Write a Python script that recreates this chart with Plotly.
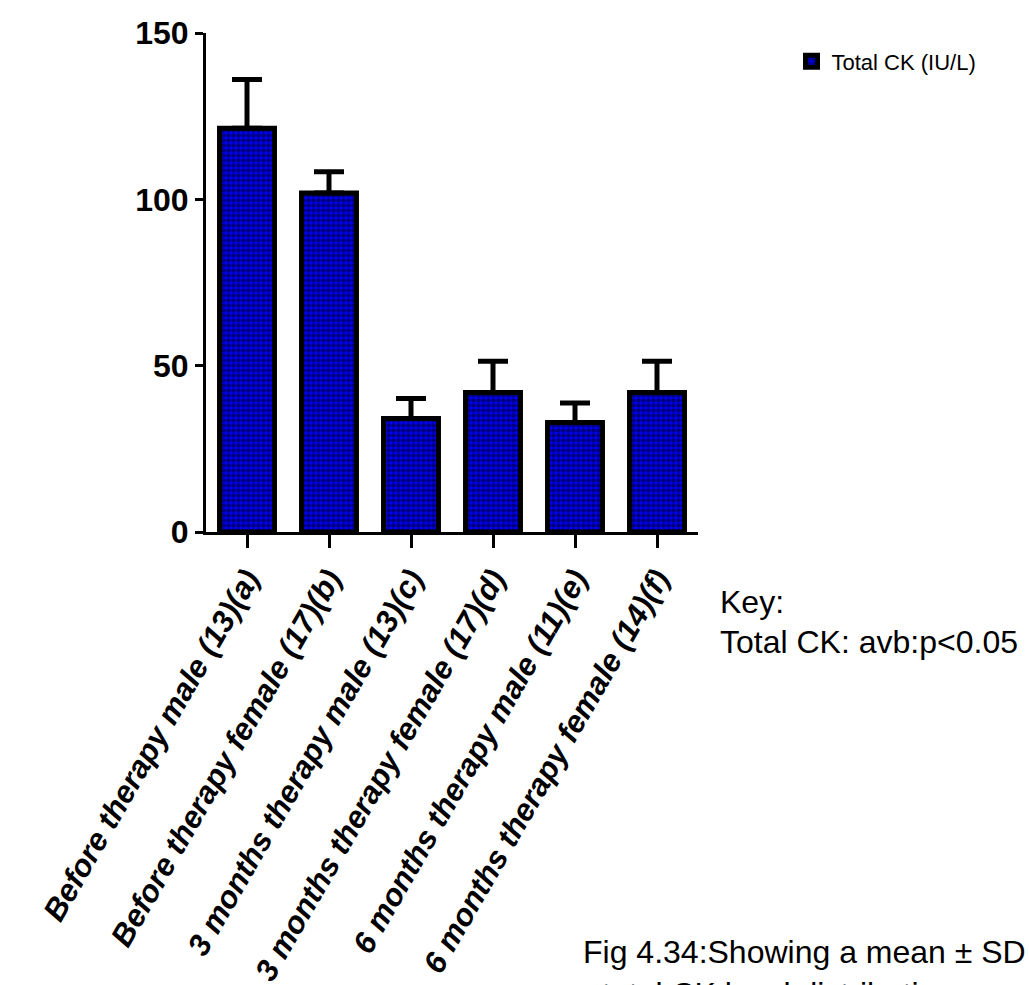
import plotly.graph_objects as go

# Group labels, mean Total CK (IU/L) and SD
groups = [
    "Before therapy male (13)(a)",
    "Before therapy female (17)(b)",
    "3 months therapy male (13)(c)",
    "3 months therapy female (17)(d)",
    "6 months therapy male (11)(e)",
    "6 months therapy female (14)(f)",
]
mean_ck = [121.4, 101.9, 34.1, 41.9, 32.9, 41.9]
sd_ck = [14.6, 6.4, 6.0, 9.4, 5.9, 9.4]
y_ticks = [0, 50, 100, 150]

FONT = "Liberation Sans, Arial, sans-serif"

fig = go.Figure()
fig.add_trace(go.Bar(
    x=groups,
    y=mean_ck,
    name="Total CK (IU/L)",
    width=0.67,
    marker=dict(
        color="#0000FF",
        line=dict(color="black", width=5),
        pattern=dict(shape=".", fgcolor="black", bgcolor="#0000FF",
                     size=5, solidity=0.65),
    ),
    error_y=dict(type="data", array=sd_ck, arrayminus=[0] * len(sd_ck),
                 symmetric=False, color="black", thickness=5, width=15),
    showlegend=True,
))

fig.update_layout(
    width=1029, height=985,
    margin=dict(l=206, r=331, t=33, b=453),
    paper_bgcolor="white", plot_bgcolor="white",
    font=dict(family=FONT, color="black"),
    showlegend=True,
    legend=dict(x=1.19, y=0.985, xanchor="left", yanchor="top",
                font=dict(size=22, family=FONT),
                bgcolor="rgba(0,0,0,0)"),
)

fig.update_xaxes(
    range=[-0.5, 5.5], automargin=False,
    showline=True, linewidth=3, linecolor="black",
    ticks="outside", ticklen=13, tickwidth=3, tickcolor="black",
    tickangle=-60,
    tickfont=dict(size=31, family=FONT, weight="bold", style="italic"),
    showgrid=False, zeroline=False,
)
fig.update_yaxes(
    range=[0, 150], automargin=False,
    tickvals=y_ticks, ticktext=[str(v) for v in y_ticks],
    showline=True, linewidth=3, linecolor="black",
    ticks="outside", ticklen=8, tickwidth=3, tickcolor="black",
    tickfont=dict(size=32, family=FONT, weight="bold"),
    showgrid=False, zeroline=False,
)

def px_x(p):
    return (p - 206) / 492

def px_y(p):
    return (532 - p) / 499

notes = [
    ("Key:", 718, 602, 32),
    ("Total CK: avb:p<0.05", 718, 642, 32),
    ("Fig 4.34:Showing a mean \u00b1 SD level of Total CK", 581, 952, 32),
    ("total CK level distribution among the groups", 600, 994, 32),
]
for text, xp, yp, size in notes:
    fig.add_annotation(
        text=text, xref="paper", yref="paper",
        x=px_x(xp), y=px_y(yp), xanchor="left", yanchor="middle",
        showarrow=False, align="left",
        font=dict(size=size, family=FONT, color="black"),
    )

fig.write_html("out.html")
